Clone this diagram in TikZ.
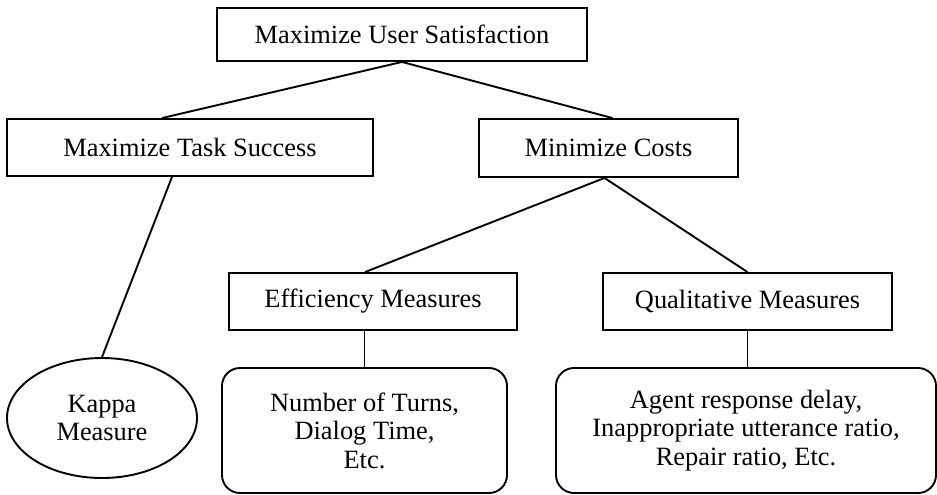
\documentclass[tikz,border=0pt]{standalone}
\usepackage{fontspec}
\setmainfont{Liberation Serif}
\usepackage{tikz}
\usetikzlibrary{positioning,shapes.geometric}
\newcommand{\diagfont}{\fontsize{13.2}{14.2}\selectfont}
\tikzset{
  goalbox/.style={
    rectangle, draw=black, line width=0.95pt,
    fill=white, align=center, inner sep=0pt,
    font=\diagfont
  },
  roundbox/.style={goalbox, rounded corners=9pt},
  ovalnode/.style={
    ellipse, draw=black, line width=0.95pt,
    align=center, inner sep=0pt, font=\diagfont
  },
  treeline/.style={line width=0.95pt, color=black},
}

\begin{document}
\begin{tikzpicture}[x=0.5pt, y=-0.5pt]
  \useasboundingbox (0,0) rectangle (937,494);
  \node[goalbox, minimum width=185pt, minimum height=26.5pt] (user) at (402,34.5) {Maximize User Satisfaction};
  \node[goalbox, minimum width=183pt, minimum height=28.5pt] (task) at (190,147.5) {Maximize Task Success};
  \node[goalbox, minimum width=129.5pt, minimum height=29pt] (cost) at (608.5,148) {Minimize Costs};
  \node[goalbox, minimum width=144pt, minimum height=28.5pt] (eff) at (373,301.5) {Efficiency Measures};
  \node[goalbox, minimum width=144.5pt, minimum height=28.5pt] (qual) at (747.5,301.5) {Qualitative Measures};
  \node[ovalnode, minimum width=95pt, minimum height=60pt] (kappa) at (102,418) {Kappa\\Measure};
  \node[roundbox, minimum width=142.5pt, minimum height=62.5pt] (turns) at (364.5,430.5) {Number of Turns,\\Dialog Time,\\Etc.};
  \node[roundbox, minimum width=190pt, minimum height=62.5pt] (agent) at (746,430.5) {Agent response delay,\\Inappropriate utterance ratio,\\Repair ratio, Etc.};
  % tree edges
  \draw[treeline] (user.south) -- ([xshift=-14pt]task.north);
  \draw[treeline] (user.south) -- ([xshift=2pt]cost.north);
  \draw[treeline] ([xshift=-9pt]task.south) -- (kappa.north);
  \draw[treeline] ([xshift=-2pt]cost.south) -- ([xshift=-4pt]eff.north);
  \draw[treeline] ([xshift=-2pt]cost.south) -- (qual.north);
  \draw[treeline] (eff.south -| turns.north) -- (turns.north);
  \draw[treeline] (qual.south) -- (qual.south |- agent.north);
\end{tikzpicture}
\end{document}
